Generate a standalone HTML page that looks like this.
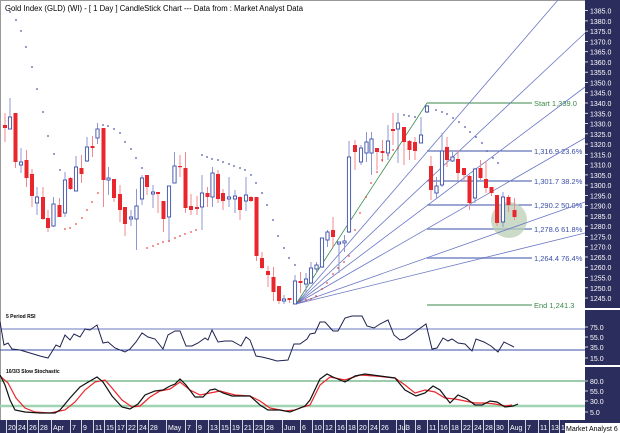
<!DOCTYPE html>
<html><head><meta charset="utf-8"><style>
html,body{margin:0;padding:0;background:#fff}
svg{display:block;font-family:"Liberation Sans",sans-serif}
</style></head><body>
<svg id="s" width="620" height="433" viewBox="0 0 620 433" xmlns="http://www.w3.org/2000/svg">
<rect width="620" height="433" fill="#fff"/>
<line x1="0" y1="0.5" x2="620" y2="0.5" stroke="#999"/>
<line x1="0.5" y1="0" x2="0.5" y2="420" stroke="#999"/>
<rect x="585" y="0" width="35" height="433" fill="#2b2d5c"/>
<rect x="585" y="308" width="35" height="2" fill="#fff"/>
<rect x="585" y="365" width="35" height="2" fill="#fff"/>
<g id="g"></g>
<text x="5" y="11" font-size="7.8" fill="#000" textLength="298" lengthAdjust="spacingAndGlyphs">Gold Index (GLD) (WI) -  [ 1 Day ] CandleStick Chart --- Data from : Market Analyst Data</text>
<text x="6" y="318" font-size="5" fill="#000" font-weight="bold">5 Period RSI</text>
<text x="6" y="373" font-size="5" fill="#000" font-weight="bold">10/3/3 Slow Stochastic</text>
</svg>
<script>
const NS="http://www.w3.org/2000/svg",g=document.getElementById('g');
function el(t,a,txt){const e=document.createElementNS(NS,t);for(const k in a)e.setAttribute(k,a[k]);if(txt!=null)e.textContent=txt;g.appendChild(e);return e;}
const Y=p=>103+(1340-p)*2.053;
for(let p=1245;p<=1385;p+=5){const y=Y(p);el('line',{x1:585,y1:y,x2:588,y2:y,stroke:'#fff','stroke-width':0.8});el('text',{x:590,y:y+3,'font-size':7,fill:'#fff'},p+'.0');}
[[75,327],[55,337],[35,347],[15,358]].forEach(a=>{el('line',{x1:585,y1:a[1],x2:588,y2:a[1],stroke:'#fff','stroke-width':0.8});el('text',{x:590,y:a[1]+3,'font-size':7,fill:'#fff'},a[0]+'.0');});
[[80,381],[55,391],[30,401],[5,412]].forEach(a=>{el('line',{x1:585,y1:a[1],x2:588,y2:a[1],stroke:'#fff','stroke-width':0.8});el('text',{x:590,y:a[1]+3,'font-size':7,fill:'#fff'},a[0]+'.0');});
el('line',{x1:427,y1:103,x2:532,y2:103,stroke:'#3a8a4a','stroke-width':1});
el('text',{x:534,y:106,'font-size':7.5,fill:'#3a8a4a'},'Start 1,339.0');
[[151,'1,316.9 23.6%',0],[181,'1,301.7 38.2%',0],[205,'1,290.2 50.0%',0],[229,'1,278.6 61.8%',1],[258,'1,264.4 76.4%',1]].forEach(a=>{
 el('line',{x1:427,y1:a[0],x2:532,y2:a[0],stroke:a[2]?'#9aa6d4':'#3b4fa8','stroke-width':a[2]?2:1});
 el('text',{x:534,y:a[0]+3,'font-size':7.5,fill:'#3b4fa8'},a[1]);});
el('line',{x1:427,y1:305,x2:532,y2:305,stroke:'#3a8a4a','stroke-width':1});
el('text',{x:534,y:308,'font-size':7.5,fill:'#3a8a4a'},'End 1,241.3');
el('circle',{cx:509,cy:220,r:18,fill:'#b9cfb6','fill-opacity':0.75});
const O=[296,304];
[[558,0],[585,33],[585,87],[585,138],[585,202],[585,233]].forEach(e=>el('line',{x1:O[0],y1:O[1],x2:e[0],y2:e[1],stroke:'#6b78c4','stroke-width':0.8}));
el('line',{x1:O[0],y1:O[1],x2:427,y2:103,stroke:'#3a8a4a','stroke-width':0.8});
const C=[[5,125,128,113,142,'r'],[10,117,129,98,129,'b'],[15.5,113,162,113,168,'r'],[21,162,165,148,173,'b'],[26.5,160,178,150,187,'r'],[32,174,196,169,207,'r'],[37,197,203,187,215,'b'],[43,197,219,187,220,'r'],[48,218,228,210,232,'r'],[53.5,204,226,197,227,'b'],[59.5,205,217,198,217,'r'],[65,180,213,172,217,'b'],[70.5,178,189,177,190,'r'],[76,167,191,156,191,'b'],[81.5,168,174,155,183,'r'],[87,147,161,137,162,'b'],[92.5,146,148,136,157,'r'],[97.5,129,138,123,144,'b'],[103.5,128,180,128,207,'r'],[108.5,178,180,167,195,'b'],[114,179,198,179,202,'r'],[120,194,210,185,222,'r'],[125,207,224,207,236,'r'],[131,217,219,210,226,'b'],[136.5,206,219,189,250,'b'],[142,178,199,175,205,'b'],[147,175,187,175,195,'r'],[153,192,194,185,208,'b'],[158,192,194,193,213,'r'],[163.5,201,219,201,232,'r'],[169,186,217,186,242,'b'],[174.5,166,183,152,183,'b'],[180,166,167,155,177,'r'],[185.5,168,208,152,213,'r'],[191,206,210,194,215,'r'],[197,207,209,196,215,'r'],[202,193,207,175,230,'b'],[207.5,193,197,187,207,'r'],[212.5,173,197,167,207,'b'],[218,174,199,170,203,'r'],[223,193,201,189,210,'r'],[229,197,199,177,207,'b'],[235,196,199,190,213,'b'],[240,197,210,196,220,'r'],[246,195,201,177,211,'b'],[251,197,201,196,202,'r'],[256.5,197,256,197,261,'r'],[262,258,268,252,269,'r'],[268,271,275,266,287,'r'],[273.5,277,292,267,301,'r'],[279,286,301,286,304,'r'],[284,299,301,295,304,'b'],[289.5,298,300,298,303,'r'],[295,281,304,275,304,'b'],[300.5,281,283,272,293,'r'],[306,279,284,273,293,'b'],[311,268,283,262,284,'b'],[316.5,265,269,262,273,'b'],[322,238,267,238,268,'b'],[327.5,232,240,230,247,'b'],[333,230,237,217,247,'r'],[339,242,244,242,273,'b'],[344.5,241,243,235,252,'b'],[349,157,232,141,233,'b'],[355,145,152,140,170,'r'],[361,148,162,145,165,'b'],[366.5,142,153,132,162,'b'],[371.5,139,153,132,175,'b'],[377,148,152,148,170,'r'],[382.5,151,153,140,162,'r'],[388,141,153,125,160,'b'],[393,129,131,113,145,'r'],[398,123,129,113,163,'b'],[404,127,142,127,165,'r'],[409.5,141,150,140,160,'r'],[415,142,151,137,160,'r'],[421,135,143,117,143,'b'],[427,106,112,105,113,'b'],[431,166,190,156,200,'r'],[436.5,186,193,177,198,'b'],[442,151,185,133,187,'b'],[447,147,160,137,167,'r'],[452.5,157,161,152,162,'b'],[458,159,173,150,180,'r'],[464,168,175,168,182,'r'],[469.5,176,203,175,210,'r'],[475,169,198,168,203,'b'],[480.5,168,178,160,180,'r'],[486,179,188,161,193,'r'],[491.5,187,193,187,196,'r'],[497,195,223,195,226,'r'],[503,197,222,192,227,'b'],[508.5,197,205,195,212,'r'],[514.5,210,217,198,220,'r']];
C.forEach(c=>{const col=c[5]=='r'?'#e8262b':'#3b4fa8';
 el('line',{x1:c[0],y1:c[3],x2:c[0],y2:c[4],stroke:c[5]=='r'?'#f08a8c':'#8c97cf','stroke-width':1});
 const h=Math.max(c[2]-c[1],1.2);
 if(c[5]=='r')el('rect',{x:c[0]-2,y:c[1],width:4,height:h,fill:col});
 else el('rect',{x:c[0]-1.6,y:c[1],width:3.2,height:h,fill:'#fff',stroke:col,'stroke-width':0.9});});
const blue=[[10,12],[16,20],[21,31],[26,47],[32,67],[37,89],[43,112],[48,136],[54,154],[60,170],[103,125],[108,126],[114,129],[120,133],[125,142],[131,149],[136,158],[142,168],[202,155],[207,157],[212,159],[218,160],[223,162],[229,164],[234,166],[240,168],[245,170],[251,175],[256,183],[262,193],[267,205],[273,220],[278,236],[284,248],[289,258],[295,265],[404,115],[409,116],[415,117],[436,110],[442,112],[447,114],[453,118],[459,122],[465,127],[470,132],[476,137],[482,143],[487,151],[493,158],[498,163]];
const red=[[65,229],[70,228],[76,224],[82,218],[87,210],[92,202],[98,193],[147,248],[153,246],[158,244],[163,242],[169,241],[175,238],[180,236],[185,234],[191,232],[196,230],[300,301],[306,300],[311,299],[316,296],[322,289],[327,283],[333,274],[338,268],[344,262],[349,256],[355,230],[360,213],[366,197],[371,183],[377,172],[382,160],[388,155],[393,150],[398,148]];
blue.forEach(d=>el('rect',{x:d[0]-0.7,y:d[1]-0.7,width:1.4,height:1.4,fill:'#2b3a9a'}));
red.forEach(d=>el('rect',{x:d[0]-0.7,y:d[1]-0.7,width:1.4,height:1.4,fill:'#e8262b'}));
el('line',{x1:0,y1:329,x2:585,y2:329,stroke:'#9aa6d4','stroke-width':1.5});
el('line',{x1:0,y1:350,x2:585,y2:350,stroke:'#3b4fa8','stroke-width':1});
const rsi=[[0,322],[4,345],[8,343],[12,349],[20,350],[30,353],[40,356],[48,358],[53,350],[56,345],[60,347],[65,335],[70,340],[74,334],[80,337],[85,329],[90,330],[97,325],[103,343],[108,342],[115,348],[125,352],[130,349],[136,342],[142,333],[148,337],[155,339],[163,349],[168,335],[175,331],[180,331],[186,346],[192,346],[198,343],[205,338],[208,340],[212,330],[218,342],[225,341],[232,341],[241,346],[246,337],[250,340],[256,356],[262,357],[270,359],[277,361],[288,360],[294,344],[300,344],[307,339],[310,334],[315,333],[320,322],[325,322],[333,331],[338,331],[345,318],[352,316],[362,316],[367,326],[374,328],[380,324],[388,320],[394,335],[400,340],[405,339],[426,324],[432,349],[437,348],[443,338],[448,341],[452,339],[458,343],[465,344],[472,351],[476,339],[484,342],[491,346],[498,352],[504,342],[514,347]];
el('polyline',{points:rsi.map(p=>p.join(',')).join(' '),fill:'none',stroke:'#1d2250','stroke-width':1});
el('line',{x1:0,y1:381,x2:585,y2:381,stroke:'#3a9a5a','stroke-width':1});
el('line',{x1:0,y1:406,x2:585,y2:406,stroke:'#9fd3b2','stroke-width':2.5});
const sk=[[0,375],[5,385],[10,400],[15,410],[25,412],[40,413],[55,413],[60,410],[70,398],[80,387],[90,381],[97,377],[103,382],[112,396],[122,407],[130,409],[138,404],[145,395],[155,391],[163,390],[170,386],[175,384],[180,379],[186,385],[195,397],[203,397],[210,390],[215,389],[223,393],[232,396],[250,396],[260,405],[268,410],[280,410],[290,412],[300,408],[305,406],[310,400],[320,379],[327,374],[333,377],[345,382],[355,376],[365,374],[380,376],[395,378],[405,390],[416,396],[425,393],[433,386],[440,390],[450,403],[458,395],[467,399],[475,405],[482,405],[490,401],[497,402],[505,407],[513,406],[518,404]];
const sd=[[0,376],[8,383],[16,398],[25,408],[35,412],[50,413],[65,410],[75,402],[85,390],[95,382],[105,380],[112,388],[122,400],[132,407],[140,406],[150,397],[160,391],[170,389],[180,382],[190,390],[200,395],[210,393],[220,391],[235,395],[250,396],[260,401],[270,408],[285,411],[295,410],[303,407],[310,405],[320,385],[330,377],[345,380],[360,375],[375,376],[395,378],[405,385],[415,393],[425,390],[435,392],[445,398],[455,399],[465,401],[475,403],[485,403],[495,404],[505,406],[512,405]];
el('polyline',{points:sd.map(p=>p.join(',')).join(' '),fill:'none',stroke:'#e8262b','stroke-width':1.2});
el('polyline',{points:sk.map(p=>p.join(',')).join(' '),fill:'none',stroke:'#111','stroke-width':1.2});
el('rect',{x:0,y:420,width:620,height:13,fill:'#2b2d5c'});
const L=[[10,'20'],[20,'24'],[31,'26'],[42,'28'],[55,'Apr'],[74,'7'],[85,'9'],[97,'11'],[108,'15'],[119,'17'],[130,'22'],[141,'24'],[152,'28'],[170,'May'],[189,'7'],[200,'9'],[212,'13'],[223,'15'],[234,'19'],[246,'21'],[257,'23'],[268,'28'],[286,'Jun'],[304,'6'],[316,'10'],[327,'12'],[339,'16'],[350,'18'],[361,'20'],[372,'24'],[383,'26'],[400,'Jul'],[408,'3'],[419,'8'],[431,'11'],[442,'16'],[453,'18'],[465,'22'],[476,'24'],[487,'28'],[498,'30'],[512,'Aug'],[529,'7'],[542,'11'],[553,'13'],[563,'1']];
L.forEach(l=>{el('line',{x1:l[0]-3.5,y1:420,x2:l[0]-3.5,y2:433,stroke:'#fff','stroke-width':0.8});el('text',{x:l[0]-2,y:430,'font-size':7,fill:'#fff'},l[1]);});
el('rect',{x:565,y:423,width:55,height:10,fill:'#fff'});
el('text',{x:566,y:431,'font-size':7,fill:'#000'},'Market Analyst 6');
</script>
</body></html>
